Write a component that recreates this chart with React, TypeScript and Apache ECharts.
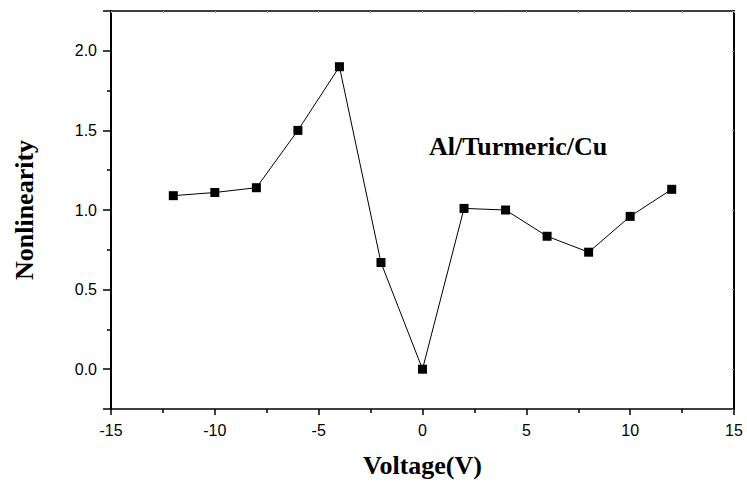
import React, { useEffect, useRef } from "react";
import * as echarts from "echarts";

// Bias voltage (V) and the measured nonlinearity coefficient
const voltage = [-12, -10, -8, -6, -4, -2, 0, 2, 4, 6, 8, 10, 12];
const nonlinearity = [1.09, 1.11, 1.14, 1.5, 1.9, 0.67, 0.0, 1.01, 1.0, 0.835, 0.735, 0.96, 1.13];

const xLabels = { min: -15, max: 15, step: 5 };
const yLabels = { min: -0.25, max: 2.25 };

const sampleName = "Al/Turmeric/Cu";
const xTitle = "Voltage(V)";
const yTitle = "Nonlinearity";

const serif = "'Liberation Serif', 'Times New Roman', serif";
const sans = "'Liberation Sans', Arial, sans-serif";

export default function App() {
  const ref = useRef<HTMLDivElement>(null);

  useEffect(() => {
    if (!ref.current) return;
    const chart = echarts.init(ref.current, null, { renderer: "svg" });
    const points = voltage.map((v, i) => [v, nonlinearity[i]]);

    chart.setOption({
      animation: false,
      backgroundColor: "#ffffff",
      grid: { left: 111, right: 13, top: 11, bottom: 77 },
      xAxis: [
        {
          type: "value",
          position: "bottom",
          min: xLabels.min,
          max: xLabels.max,
          interval: xLabels.step,
          name: xTitle,
          nameLocation: "middle",
          nameGap: 56,
          nameTextStyle: {
            fontFamily: serif,
            fontWeight: "bold",
            fontSize: 26,
            color: "#000",
            verticalAlign: "middle",
          },
          axisLine: { onZero: false, lineStyle: { color: "#000", width: 1.5 } },
          axisTick: { show: true, inside: false, length: 6, lineStyle: { color: "#000", width: 1.5 } },
          minorTick: { show: true, splitNumber: 2, length: 4, lineStyle: { color: "#000", width: 1.5 } },
          axisLabel: { fontFamily: sans, fontSize: 16, color: "#000", margin: 13 },
          splitLine: { show: false },
        },
        {
          type: "value",
          position: "top",
          min: xLabels.min,
          max: xLabels.max,
          interval: 2.5,
          axisLine: { show: true, onZero: false, lineStyle: { color: "#000", width: 1.5 } },
          axisTick: { show: true, inside: true, length: 2, lineStyle: { color: "#999", width: 1 } },
          axisLabel: { show: false },
          splitLine: { show: false },
        },
      ],
      yAxis: [
        {
          type: "value",
          position: "left",
          min: yLabels.min,
          max: yLabels.max,
          splitNumber: 5,
          name: yTitle,
          nameLocation: "middle",
          nameGap: 87,
          nameRotate: 90,
          nameTextStyle: {
            fontFamily: serif,
            fontWeight: "bold",
            fontSize: 26,
            color: "#000",
            verticalAlign: "middle",
          },
          axisLine: { show: true, onZero: false, lineStyle: { color: "#000", width: 2 } },
          axisTick: { show: true, inside: false, length: 8, lineStyle: { color: "#000", width: 1.5 } },
          minorTick: { show: true, splitNumber: 2, length: 4, lineStyle: { color: "#000", width: 1.5 } },
          axisLabel: {
            fontFamily: sans,
            fontSize: 16,
            color: "#000",
            margin: 14,
            showMinLabel: false,
            showMaxLabel: false,
            formatter: (v: number) =>
              Math.abs(v * 2 - Math.round(v * 2)) < 1e-6 ? v.toFixed(1) : "",
          },
          splitLine: { show: false },
        },
        {
          type: "value",
          position: "right",
          min: yLabels.min,
          max: yLabels.max,
          splitNumber: 5,
          axisLine: { show: true, onZero: false, lineStyle: { color: "#000", width: 2 } },
          axisTick: { show: true, inside: true, length: 2, lineStyle: { color: "#999", width: 1 } },
          axisLabel: { show: false },
          splitLine: { show: false },
        },
      ],
      graphic: [
        {
          type: "text",
          left: 429,
          top: 133,
          style: {
            text: sampleName,
            fontFamily: serif,
            fontWeight: "bold",
            fontSize: 26,
            fill: "#000",
          },
        },
      ],
      series: [
        {
          type: "line",
          xAxisIndex: 0,
          yAxisIndex: 0,
          data: points,
          symbol: "rect",
          symbolSize: 9,
          itemStyle: { color: "#000" },
          lineStyle: { color: "#000", width: 1 },
        },
      ],
    });

    return () => chart.dispose();
  }, []);

  return (
    <div
      ref={ref}
      style={{ position: "fixed", left: 0, top: 0, width: 747, height: 486, background: "#fff" }}
    />
  );
}
